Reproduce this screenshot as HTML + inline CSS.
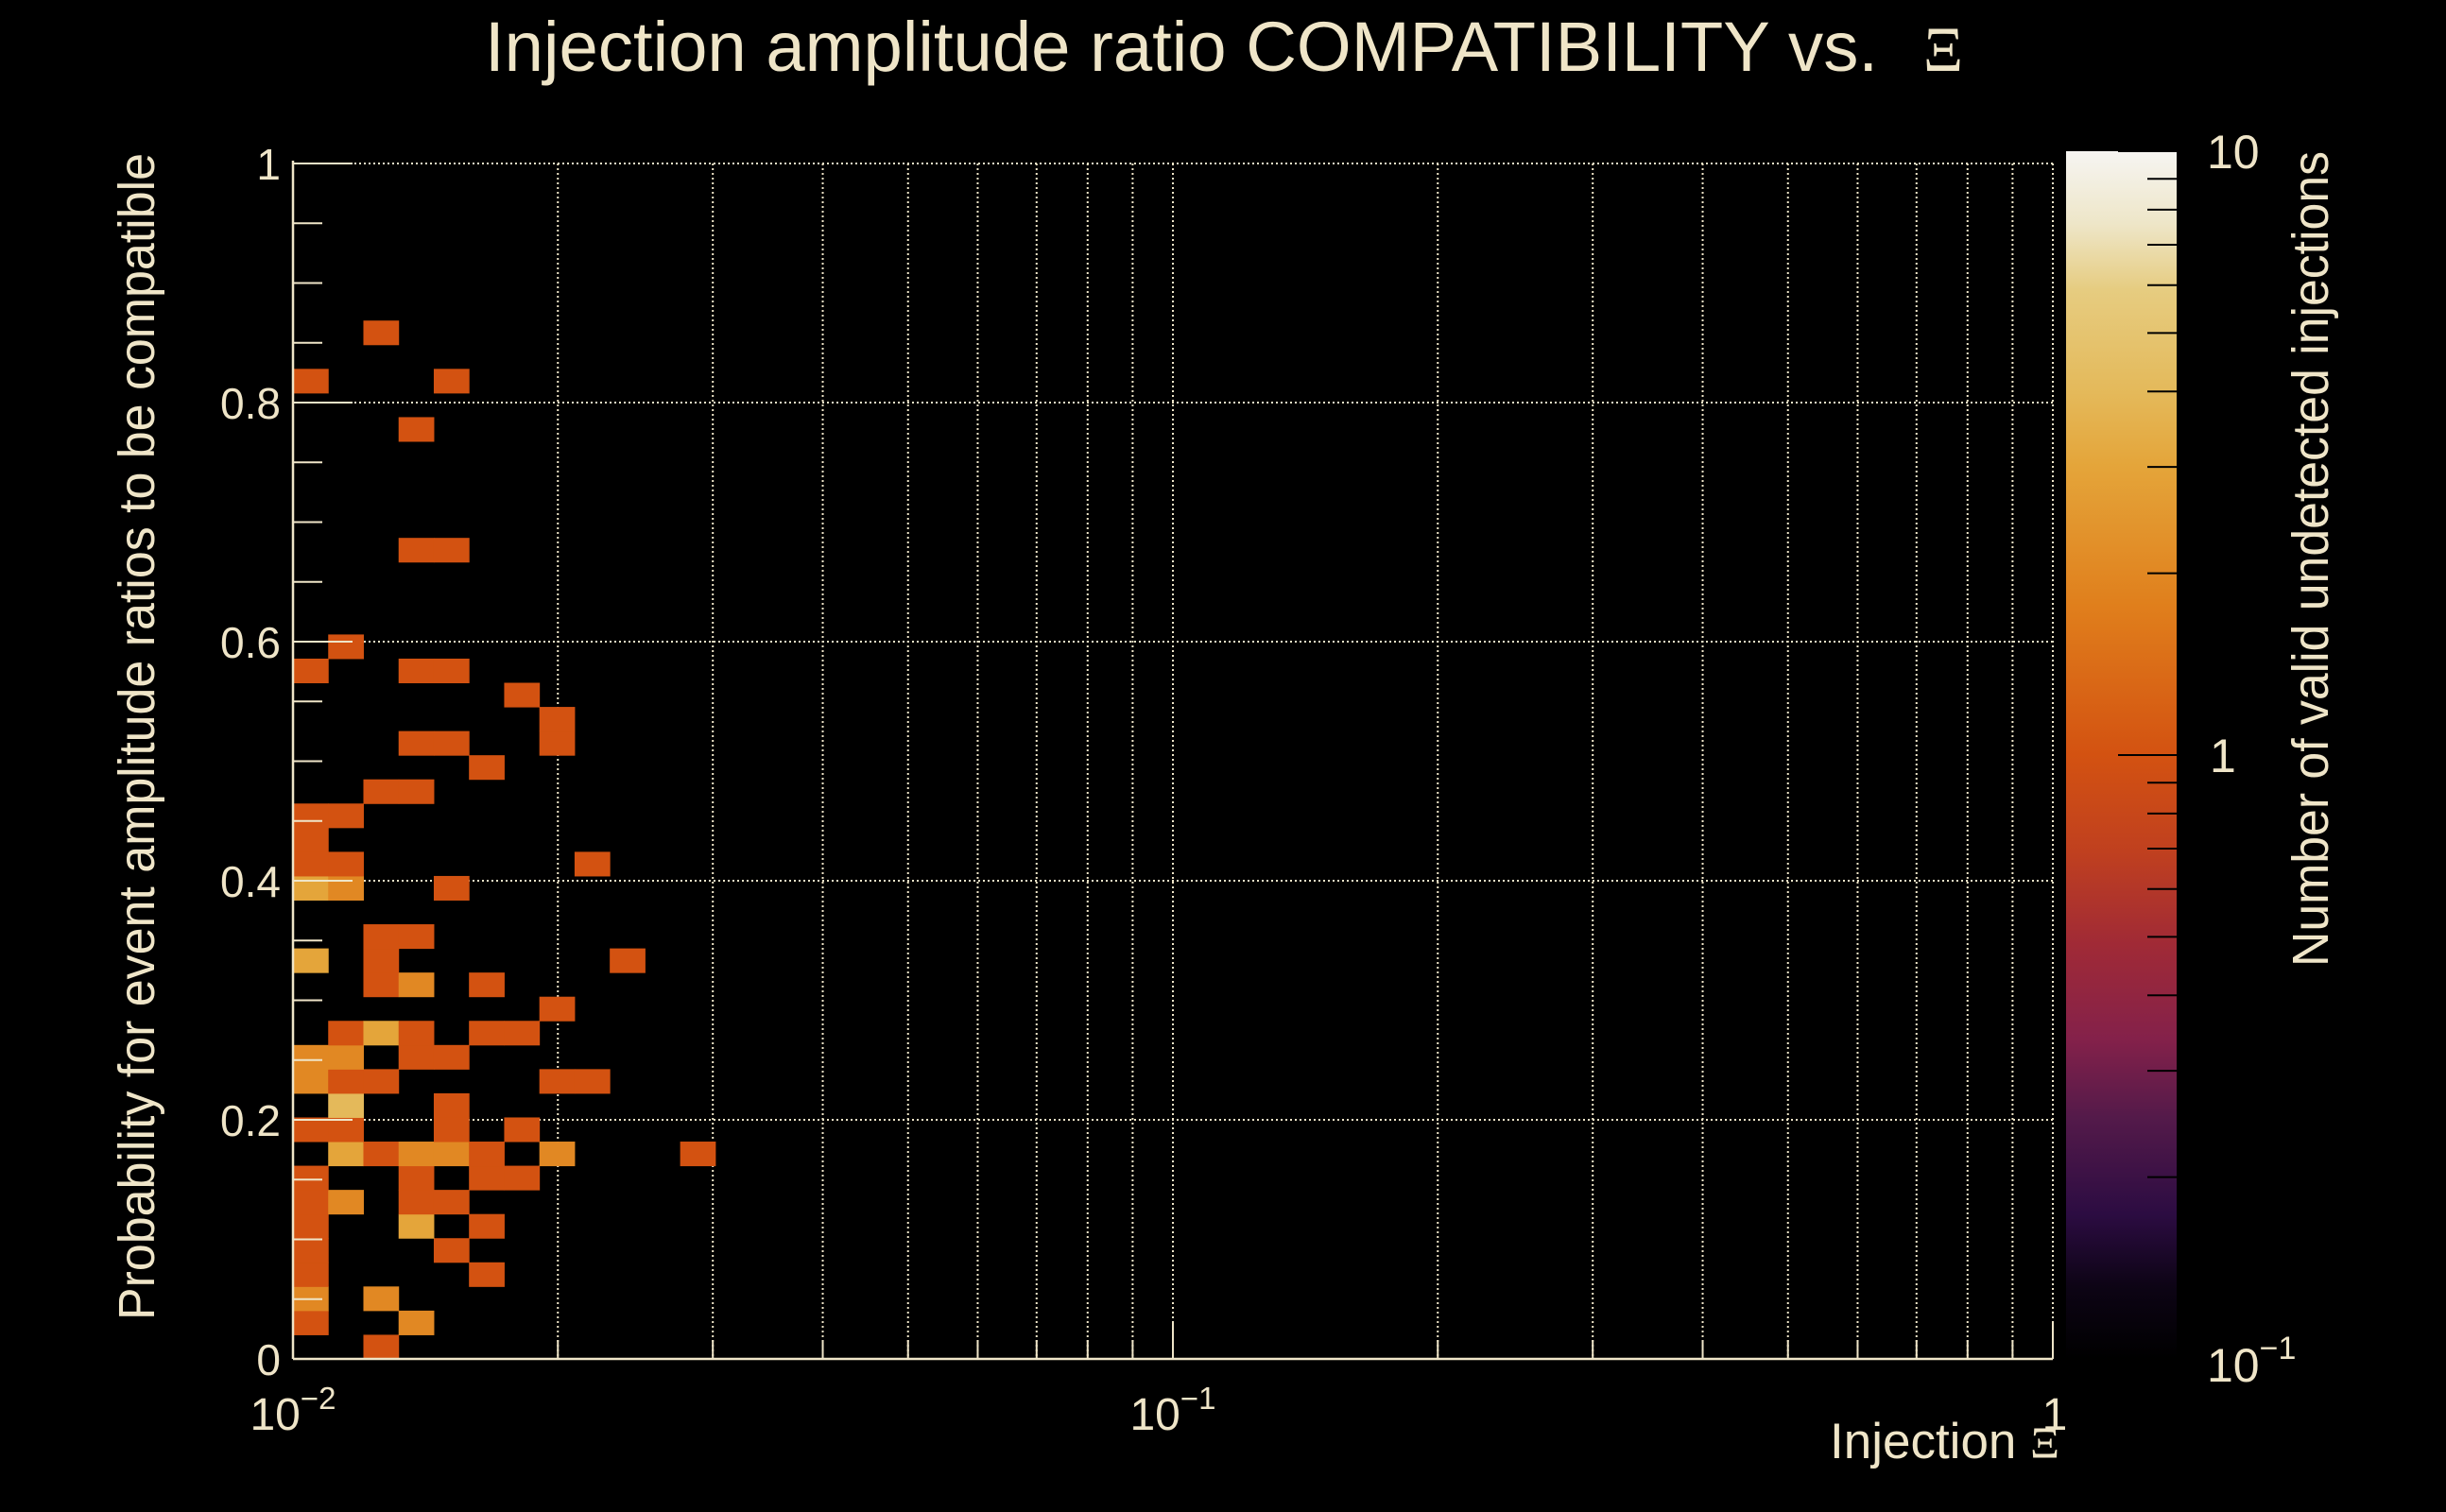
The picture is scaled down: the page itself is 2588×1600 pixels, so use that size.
<!DOCTYPE html>
<html><head><meta charset="utf-8"><style>
html,body{margin:0;padding:0;background:#000;}
svg{display:block;}
text{font-family:"Liberation Sans",sans-serif;fill:#efe5c8;}
.serif{font-family:"Liberation Serif",serif;}
</style></head><body>
<svg id="chart" width="2588" height="1600" viewBox="0 0 2588 1600" xmlns="http://www.w3.org/2000/svg">
<rect x="0" y="0" width="2588" height="1600" fill="#000"/>
<defs>
<linearGradient id="pal" x1="0" y1="1" x2="0" y2="0">
<stop offset="0" stop-color="#000000"/><stop offset="0.06" stop-color="#0d0415"/>
<stop offset="0.12" stop-color="#2c0c42"/><stop offset="0.2" stop-color="#541a4a"/>
<stop offset="0.265" stop-color="#84214a"/><stop offset="0.343" stop-color="#a02a36"/>
<stop offset="0.42" stop-color="#c0401f"/><stop offset="0.5" stop-color="#d35211"/>
<stop offset="0.624" stop-color="#e07f1c"/><stop offset="0.74" stop-color="#e4a53a"/>
<stop offset="0.8" stop-color="#e4b95a"/><stop offset="0.885" stop-color="#e6cc80"/>
<stop offset="0.94" stop-color="#eee6c8"/><stop offset="1" stop-color="#f6f5f2"/>
</linearGradient>
</defs>
<g id="grid"></g>
<g id="cells"></g>
<g id="axes"></g>
<rect x="2186" y="160" width="117" height="1278" fill="url(#pal)"/>
<g id="cbticks"></g>

<text x="513" y="75" font-size="74" textLength="1474" lengthAdjust="spacingAndGlyphs">Injection amplitude ratio COMPATIBILITY vs.</text>
<text class="serif" x="2035" y="75" font-size="68" textLength="42" lengthAdjust="spacingAndGlyphs">Ξ</text>

<text transform="translate(163,162) rotate(-90)" text-anchor="end" font-size="54" textLength="1235" lengthAdjust="spacingAndGlyphs">Probability for event amplitude ratios to be compatible</text>

<text x="1936" y="1543" font-size="53">Injection <tspan class="serif" font-size="48">Ξ</tspan></text>

<text transform="translate(2463,160) rotate(-90)" text-anchor="end" font-size="54" textLength="863" lengthAdjust="spacingAndGlyphs">Number of valid undetected injections</text>

<text x="2335" y="178" font-size="50">10</text>
<text x="2338" y="817" font-size="50">1</text>
<text x="2335" y="1462" font-size="50">10<tspan font-size="34" dy="-24">−1</tspan></text>
</svg>
<script>
// ---- data ----
const xBinIndex = [2,0,3,0,2,0,5,0,4,0,3,5,0,1,3,4,0,3,5,6,1,2,3,4,5,7,11,0,1,4,6,1,4,0,1,2,7,8,0,1,3,4,1,2,3,5,6,7,2,3,5,0,2,9,2,3,0,1,4,0,1,8,0,0,1,2,3,5,3,4,7,7,6,0,3,4,1,3,4,3,0,4,2];
const yBinIndex = [0,1,1,2,2,3,3,4,4,5,5,5,6,6,6,6,7,7,7,7,8,8,8,8,8,8,8,9,9,9,9,10,10,11,11,11,11,11,12,12,12,12,13,13,13,13,13,14,15,15,15,16,16,16,17,17,19,19,19,20,20,20,21,22,22,23,23,24,25,25,25,26,27,28,28,28,29,33,33,38,40,40,42];
const counts = [1,1,2,2,2,1,1,1,1,1,3,1,1,2,1,1,1,1,1,1,3,1,2,2,1,2,1,1,1,1,1,4,1,2,1,1,1,1,2,2,1,1,1,3,1,1,1,1,1,2,1,3,1,1,1,1,3,2,1,1,1,1,1,1,1,1,1,1,1,1,1,1,1,1,1,1,1,1,1,1,1,1,1];
const yTickValues = [0,0.2,0.4,0.6,0.8,1];
const yTickLabels = ["0","0.2","0.4","0.6","0.8","1"];
const xTickValues = [0.01,0.1,1];
const xTickBases = ["10","10","1"];
const xTickExps = ["−2","−1",""];
const xLogMin = -2, xLogMax = 0, nXBins = 50;
const yMin = 0, yMax = 1, yBinWidth = 1.01/50;
const zLogMin = -1, zLogMax = 1;

// ---- geometry ----
const PL=310, PR=2172, PT=173, PB=1438;
const CBT=160, CBB=1438, CBL=2186, CBR=2303;
const NS="http://www.w3.org/2000/svg";
function X(v){return PL+(Math.log10(v)-xLogMin)/(xLogMax-xLogMin)*(PR-PL);}
function Y(v){return PB-(v-yMin)/(yMax-yMin)*(PB-PT);}
function Z(v){return CBB-(Math.log10(v)-zLogMin)/(zLogMax-zLogMin)*(CBB-CBT);}
const stops=[[0,"#000000"],[0.06,"#0d0415"],[0.12,"#2c0c42"],[0.2,"#541a4a"],[0.265,"#84214a"],[0.343,"#a02a36"],[0.42,"#c0401f"],[0.5,"#d35211"],[0.624,"#e07f1c"],[0.74,"#e4a53a"],[0.8,"#e4b95a"],[0.885,"#e6cc80"],[0.94,"#eee6c8"],[1,"#f6f5f2"]];
function hx(c){return [1,3,5].map(i=>parseInt(c.substr(i,2),16));}
function color(v){
  let f=(Math.log10(v)-zLogMin)/(zLogMax-zLogMin); f=Math.max(0,Math.min(1,f));
  for(let i=1;i<stops.length;i++){ if(f<=stops[i][0]){
    const a=hx(stops[i-1][1]), b=hx(stops[i][1]); const t=(f-stops[i-1][0])/(stops[i][0]-stops[i-1][0]);
    return "rgb("+a.map((x,k)=>Math.round(x+(b[k]-x)*t)).join(",")+")";}}
  return stops[stops.length-1][1];
}
function mk(tag,attrs,parent){const e=document.createElementNS(NS,tag);for(const k in attrs)e.setAttribute(k,attrs[k]);parent.appendChild(e);return e;}
const cream="#efe5c8";
const grid=document.getElementById('grid'), cells=document.getElementById('cells'), axes=document.getElementById('axes'), cbt=document.getElementById('cbticks');

// grid lines
const xGridVals=[];
for(let d=-2;d<0;d++){for(let k=2;k<=10;k++){xGridVals.push(k*Math.pow(10,d));}}
xGridVals.forEach(v=>{
  const l=mk('line',{x1:X(v),x2:X(v),y1:PT,y2:PB,stroke:cream,'stroke-width':2,'stroke-dasharray':'2 3'},grid);
  
  
});
yTickValues.slice(1).forEach(v=>{
  const l=mk('line',{x1:PL,x2:PR,y1:Y(v),y2:Y(v),stroke:cream,'stroke-width':2,'stroke-dasharray':'2 3'},grid);
  
  
});

// cells
for(let i=0;i<counts.length;i++){
  const lx0=xLogMin+xBinIndex[i]*(xLogMax-xLogMin)/nXBins, lx1=lx0+(xLogMax-xLogMin)/nXBins;
  const x0=X(Math.pow(10,lx0)), x1=X(Math.pow(10,lx1));
  const y0=Y(yBinIndex[i]*yBinWidth), y1=Y((yBinIndex[i]+1)*yBinWidth);
  const r=mk('rect',{x:x0,y:y1,width:x1-x0+0.5,height:y0-y1+0.5,fill:color(counts[i])},cells);
  
  
}

// axes lines
let a=mk('line',{x1:PL,x2:PL,y1:PT-3,y2:PB,stroke:cream,'stroke-width':2.5},axes);


a=mk('line',{x1:PL,x2:PR,y1:PB,y2:PB,stroke:cream,'stroke-width':2.5},axes);



// y ticks
for(let k=0;k<=20;k++){
  const v=k*0.05; const major=(k%4===0);
  const t=mk('line',{x1:PL,x2:PL+(major?63:31),y1:Y(v),y2:Y(v),stroke:cream,'stroke-width':2},axes);
  
  
}
yTickValues.forEach((v,i)=>{
  const t=mk('text',{x:297,y:Y(v)+17,'text-anchor':'end','font-size':46},axes);
  t.textContent=yTickLabels[i];
  
  
});
// x ticks
xGridVals.concat([0.01]).forEach(v=>{
  const major=Math.abs(Math.log10(v)-Math.round(Math.log10(v)))<1e-9;
  const t=mk('line',{x1:X(v),x2:X(v),y1:PB,y2:PB-(major?40:20),stroke:cream,'stroke-width':2},axes);
  
  
});
xTickValues.forEach((v,i)=>{
  const t=mk('text',{x:X(v)+(xTickExps[i]?0:2),y:1513,'text-anchor':'middle','font-size':48},axes);
  t.textContent=xTickBases[i];
  if(xTickExps[i]){const s=mk('tspan',{'font-size':33,dy:-22},t);s.textContent=xTickExps[i];}
  
  
});
// color bar ticks
for(let d=-1;d<1;d++){for(let k=1;k<=10;k++){
  const v=k*Math.pow(10,d); const major=(k===1||k===10);
  const t=mk('line',{x1:CBR-(major?62:31),x2:CBR,y1:Z(v),y2:Z(v),stroke:'#000','stroke-width':2},cbt);
  
  
}}
</script>
</body></html>
